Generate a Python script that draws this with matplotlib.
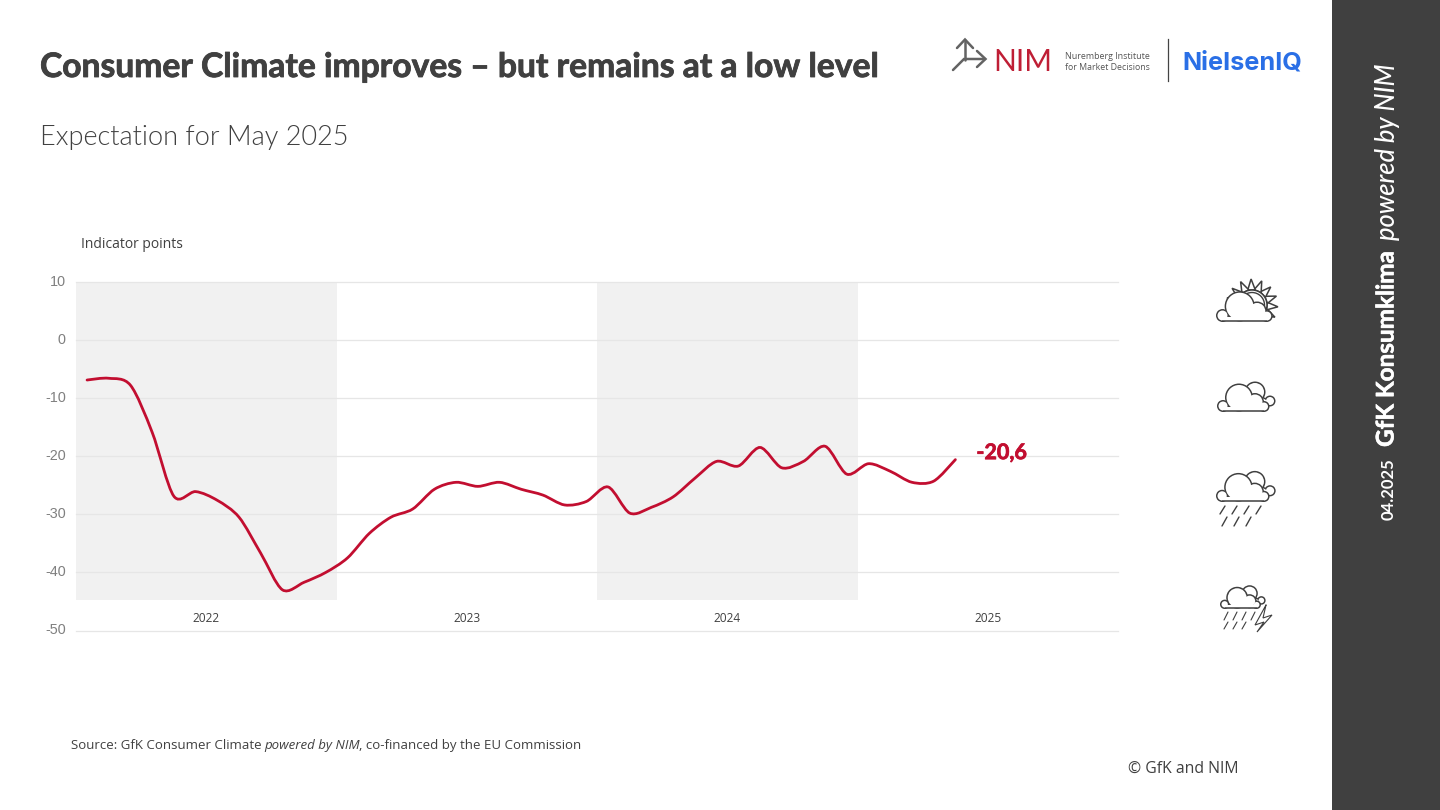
import numpy as np
import matplotlib
matplotlib.use("Agg")
import matplotlib.pyplot as plt
import matplotlib.patheffects as pe
from matplotlib.path import Path
from matplotlib.patches import PathPatch, Circle, Polygon, Rectangle
from matplotlib.transforms import ScaledTranslation

# ---- data ----
months = list(range(41))  # Jan 2022 .. May 2025
values = [-6.9, -6.6, -7.8, -15.9, -26.9, -26.1, -27.6, -30.5, -36.7, -43.0, -41.7, -40.0,
          -37.5, -33.3, -30.5, -29.1, -25.7, -24.5, -25.2, -24.5, -25.7, -26.7, -28.4, -27.8,
          -25.3, -29.8, -28.8, -27.0, -23.8, -20.9, -21.7, -18.5, -22.0, -20.9, -18.3, -23.1,
          -21.3, -22.6, -24.5, -24.3, -20.6]
years = ["2022", "2023", "2024", "2025"]
yticks = [10, 0, -10, -20, -30, -40, -50]
shaded_years = [0, 2]

RED = "#c20e30"
DARK = "#404040"
W, H = 1440, 810
fig = plt.figure(figsize=(W / 100, H / 100), dpi=100, facecolor="white")

# ---- chart axes ----
ax = fig.add_axes([76.2 / W, 1 - 630.5 / H, (1118.2 - 76.2) / W, (630.5 - 281.8) / H])
ax.set_xlim(0, 48)
ax.set_ylim(-50, 10)
for s in ax.spines.values():
    s.set_visible(False)
ax.patch.set_alpha(0)
ax.set_xticks([])
ax.set_yticks(yticks)
ax.set_yticklabels([str(v) for v in yticks], family="Liberation Sans", fontsize=10.4, color="#808080")
ax.tick_params(axis="y", length=0, pad=7.5)
for tk in ax.yaxis.get_major_ticks():
    tk.label1.set_transform(tk.label1.get_transform() + ScaledTranslation(0, 1.5 / 100, fig.dpi_scale_trans))
ax.grid(axis="y", color="#e6e6e6", lw=0.9, zorder=1)
for gl in ax.get_ygridlines():
    gl.set_clip_on(False)
ax.set_axisbelow(True)
for y in shaded_years:
    ax.add_patch(Rectangle((12 * y, -44.8), 12, 54.8, fc="#f1f1f1", ec="none", zorder=0.5))
for i, label in enumerate(years):
    ax.text(12 * i + 6, -47.9, label, ha="center", va="center", family="Open Sans", fontsize=8.6, color="#404040")

# smooth monthly curve (Catmull-Rom segments as Bezier path)
xs = np.array(months, float) + 0.5
ys = np.array(values, float)
t = 1 / 6 * 0.9
verts = [(xs[0], ys[0])]
codes = [Path.MOVETO]
for i in range(len(xs) - 1):
    p0 = max(i - 1, 0); p3 = min(i + 2, len(xs) - 1)
    verts += [(xs[i] + (xs[i + 1] - xs[p0]) * t, ys[i] + (ys[i + 1] - ys[p0]) * t),
              (xs[i + 1] - (xs[p3] - xs[i]) * t, ys[i + 1] - (ys[p3] - ys[i]) * t),
              (xs[i + 1], ys[i + 1])]
    codes += [Path.CURVE4] * 3
ax.add_patch(PathPatch(Path(verts, codes), fc="none", ec=RED, lw=2.0, capstyle="round", zorder=3))
lab = ax.annotate("-20,6", (xs[-1], ys[-1]), xytext=(21, 7), textcoords="offset pixels", va="center",
                  family="Lato", weight="bold", fontsize=15.5, color=RED, annotation_clip=False)
lab.set_path_effects([pe.withStroke(linewidth=0.5, foreground=RED)])

# ---- overlay in pixel coordinates ----
ov = fig.add_axes([0, 0, 1, 1], zorder=5)
ov.set_xlim(0, W)
ov.set_ylim(H, 0)
ov.axis("off")
ov.patch.set_alpha(0)

title = ov.text(40, 67, "Consumer Climate improves – but remains at a low level", family="Lato", weight="bold",
                fontsize=24.2, color=DARK, va="center")
title.set_path_effects([pe.withStroke(linewidth=0.6, foreground=DARK)])
ov.text(40, 137, "Expectation for May 2025", family="Lato", weight=300, fontsize=19.5, color=DARK, va="center")
ov.text(81, 245, "Indicator points", family="Open Sans", fontsize=10, color=DARK, va="center")
ov.text(1128, 769, "© GfK and NIM", family="Open Sans", fontsize=11.3, color=DARK, va="center")

# source line with italic run
r = fig.canvas.get_renderer()
cx = 71
for txt, st in [("Source: GfK Consumer Climate", "normal"), ("powered by NIM", "italic"),
                (", co-financed by the EU Commission", "normal")]:
    if txt.startswith(","):
        cx -= 3.2
    tt = ov.text(cx, 745.5, txt, family="Open Sans", style=st, fontsize=9.5, color=DARK, va="center")
    cx = tt.get_window_extent(r).x1 + 2.4

# right panel
ov.add_patch(Rectangle((1332, 0), 108, H, fc=DARK, ec="none"))
ov.text(1389, 520, "04.2025", rotation=90, family="Lato", weight="bold", fontsize=12, color="white", ha="center", va="bottom")
gk = ov.text(1386, 447, "GfK Konsumklima", rotation=90, family="Lato", weight="bold", fontsize=17.5, color="white", ha="center", va="bottom")
gk.set_path_effects([pe.withStroke(linewidth=0.4, foreground="white")])
ov.text(1387, 240, "powered by NIM", rotation=90, family="Lato", style="italic", weight="medium", fontsize=18.4, color="white", ha="center", va="bottom")

# logos
GR = "#636363"
def pl(pts, c=GR, lw=1.5, **k):
    a = np.array(pts, float)
    ov.plot(a[:, 0], a[:, 1], color=c, lw=lw, solid_capstyle="round", solid_joinstyle="miter", **k)
pl([(965, 60), (965, 40)], lw=1.8)
pl([(957, 48), (965, 39.5), (973, 48)], lw=1.8)
pl([(953, 70), (964, 59), (985, 59)], lw=1.8)
pl([(977, 51), (985.5, 59), (977, 67)], lw=1.8)
ov.text(993, 62, "NIM", family="Lato", fontsize=21.5, color="#bf1e35", va="center")
ov.text(1065, 56.5, "Nuremberg Institute", family="Open Sans", fontsize=6.4, color="#555555", va="center")
ov.text(1065, 67.5, "for Market Decisions", family="Open Sans", fontsize=6.3, color="#555555", va="center")
ov.plot([1167.5, 1167.5], [39, 81], color="#444444", lw=0.9)
ov.text(1182, 63, "NielsenIQ", family="Inter", weight="bold", fontsize=18.2, color="#2a6fe6", va="center")

# weather icons
IC = "#3f3f3f"
def cloud(x0, yb, s, back=False):
    def blobs(cs, z):
        for (cx_, cy_, rr) in cs:
            ov.add_patch(Circle((x0 + cx_ * s, yb + cy_ * s), rr * s, fc=IC, ec="none", zorder=z))
        for (cx_, cy_, rr) in cs:
            ov.add_patch(Circle((x0 + cx_ * s, yb + cy_ * s), rr * s - 1.5, fc="white", ec="none", zorder=z + .1))
    if back:
        blobs([(38, -20, 10.5), (53, -11, 5.5), (45, -8, 7)], 10)
    blobs([(22, -14.5, 14), (6, -6, 6), (38, -10, 9), (47, -5.5, 5.5)], 11)
    ov.add_patch(Circle((x0 + 30 * s, yb - 8 * s), 5 * s, fc="white", ec="none", zorder=11.15))
    ov.add_patch(Rectangle((x0 + 6 * s, yb - 5 * s), 41 * s, 5 * s - 0.9, fc="white", ec="none", zorder=11.2))
    ov.plot([x0 + 6 * s, x0 + 47 * s], [yb - .7, yb - .7], color=IC, lw=1.1, zorder=11.3, solid_capstyle="butt")

# sun + cloud
sx, sy = 1252, 305
for a in np.arange(-28, 170, 24):
    ar = np.radians(a)
    d = np.array([np.cos(ar), -np.sin(ar)])
    n = np.array([d[1], -d[0]])
    c = np.array([sx, sy])
    ov.add_patch(Polygon([c + d * 15 + n * 3.8, c + d * 26, c + d * 15 - n * 3.8], fc="white", ec=IC, lw=1.1, zorder=8))
ov.add_patch(Circle((sx, sy), 15, fc="white", ec=IC, lw=1.1, zorder=8.5))
ov.add_patch(Circle((sx, sy), 12.5, fc="white", ec=IC, lw=1.0, zorder=8.6))
cloud(1216, 322, 1.08)
cloud(1217, 412, 1.0, back=True)
cloud(1216, 502, 1.02, back=True)
cloud(1220, 609, 0.78, back=True)

for i in range(4):
    pl([(1220 + 12 * i, 514), (1225 + 12 * i, 506)], lw=1.0, c=IC)
for i in range(3):
    pl([(1222 + 12 * i, 526), (1227 + 12 * i, 517)], lw=1.0, c=IC)
for i in range(4):
    pl([(1224 + 9 * i, 620), (1228 + 9 * i, 612)], lw=0.8, c=IC)
for i in range(3):
    pl([(1224 + 9 * i, 629), (1228 + 9 * i, 622)], lw=0.8, c=IC)
pl([(1266, 605), (1255, 625), (1264, 622), (1257, 632), (1272, 615), (1263, 618), (1266, 605)], lw=0.8, c=IC)

fig.savefig("out.png", dpi=100, facecolor="white")
